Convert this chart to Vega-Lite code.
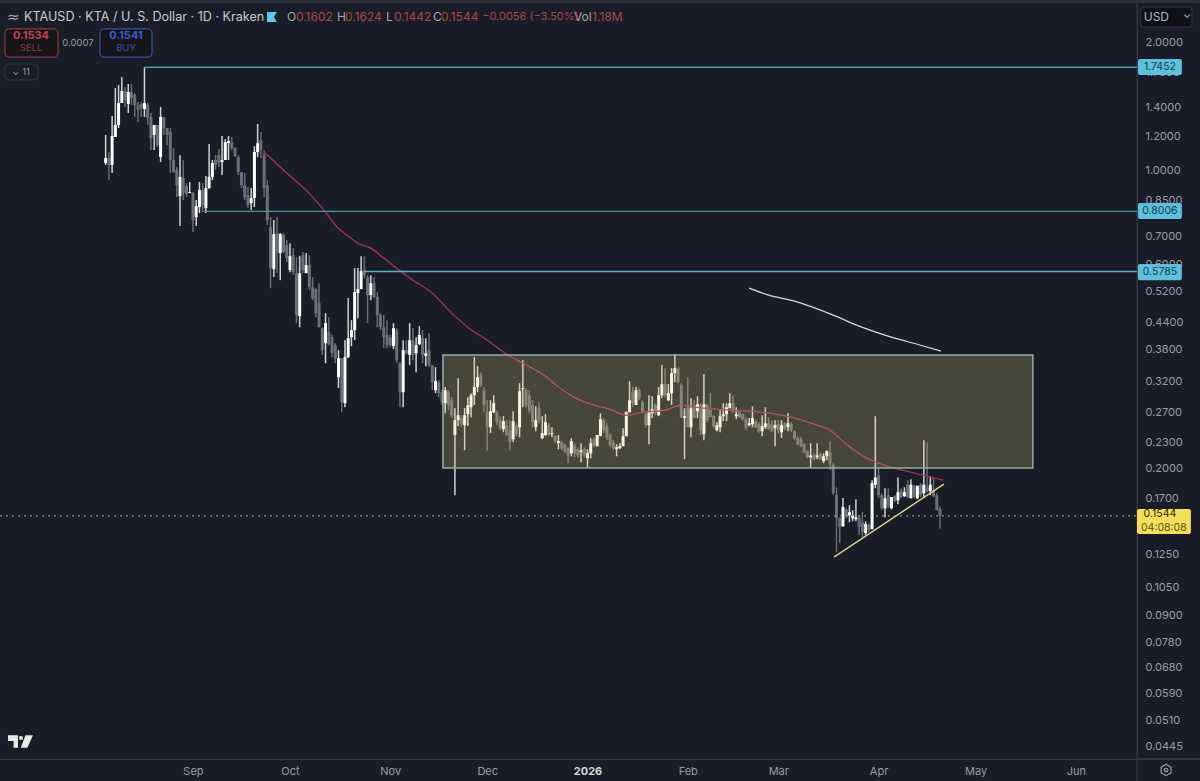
{"$schema":"https://vega.github.io/schema/vega-lite/v6.json","width":1137,"height":759,"autosize":{"type":"none"},"padding":{"left":0,"top":0,"right":63,"bottom":22},"background":"#1a1d27","config":{"view":{"stroke":null},"font":"Inter","text":{"font":"Inter"}},
"datasets":{
"candles":[
{"d":"2025-08-05","o":1.040,"h":1.210,"l":1.029,"c":1.068},{"d":"2025-08-06","o":1.068,"h":1.103,"l":0.948,"c":1.029},{"d":"2025-08-07","o":1.029,"h":1.341,"l":0.985,"c":1.203},{"d":"2025-08-08","o":1.197,"h":1.560,"l":1.197,"c":1.277},{"d":"2025-08-09","o":1.277,"h":1.586,"l":1.256,"c":1.438},{"d":"2025-08-10","o":1.438,"h":1.655,"l":1.438,"c":1.535},{"d":"2025-08-11","o":1.535,"h":1.569,"l":1.408,"c":1.462},{"d":"2025-08-12","o":1.431,"h":1.594,"l":1.363,"c":1.527},{"d":"2025-08-13","o":1.527,"h":1.594,"l":1.423,"c":1.478},{"d":"2025-08-14","o":1.502,"h":1.518,"l":1.334,"c":1.423},{"d":"2025-08-15","o":1.423,"h":1.446,"l":1.298,"c":1.385},{"d":"2025-08-16","o":1.431,"h":1.446,"l":1.334,"c":1.400},{"d":"2025-08-17","o":1.392,"h":1.745,"l":1.334,"c":1.438},{"d":"2025-08-18","o":1.423,"h":1.438,"l":1.277,"c":1.327},{"d":"2025-08-19","o":1.334,"h":1.363,"l":1.115,"c":1.190},{"d":"2025-08-20","o":1.210,"h":1.277,"l":1.115,"c":1.277},{"d":"2025-08-21","o":1.277,"h":1.277,"l":1.133,"c":1.145},{"d":"2025-08-22","o":1.074,"h":1.408,"l":1.046,"c":1.334},{"d":"2025-08-23","o":1.334,"h":1.334,"l":1.210,"c":1.256},{"d":"2025-08-24","o":1.256,"h":1.256,"l":1.145,"c":1.210},{"d":"2025-08-25","o":1.230,"h":1.256,"l":0.985,"c":1.057},{"d":"2025-08-26","o":1.057,"h":1.127,"l":0.985,"c":0.990},{"d":"2025-08-27","o":1.001,"h":1.018,"l":0.865,"c":0.923},{"d":"2025-08-28","o":0.8697,"h":1.085,"l":0.7394,"c":0.964},{"d":"2025-08-29","o":0.959,"h":1.057,"l":0.851,"c":0.8838},{"d":"2025-08-30","o":0.918,"h":0.933,"l":0.865,"c":0.879},{"d":"2025-08-31","o":0.8838,"h":0.938,"l":0.8838,"c":0.8886},
{"d":"2025-09-01","o":0.8838,"h":0.8886,"l":0.7158,"c":0.7638},{"d":"2025-09-02","o":0.7763,"h":0.851,"l":0.7394,"c":0.8239},{"d":"2025-09-03","o":0.8196,"h":0.938,"l":0.7932,"c":0.8983},{"d":"2025-09-04","o":0.8983,"h":0.933,"l":0.7975,"c":0.8284},{"d":"2025-09-05","o":0.8151,"h":0.969,"l":0.7932,"c":0.908},{"d":"2025-09-06","o":0.908,"h":1.152,"l":0.903,"c":0.964},{"d":"2025-09-07","o":0.964,"h":1.057,"l":0.948,"c":1.040},{"d":"2025-09-08","o":1.057,"h":1.085,"l":1.001,"c":1.029},{"d":"2025-09-09","o":1.085,"h":1.121,"l":1.018,"c":1.040},{"d":"2025-09-10","o":1.046,"h":1.203,"l":0.974,"c":1.057},{"d":"2025-09-11","o":1.057,"h":1.183,"l":1.057,"c":1.164},{"d":"2025-09-12","o":1.158,"h":1.203,"l":1.057,"c":1.171},{"d":"2025-09-13","o":1.164,"h":1.197,"l":1.115,"c":1.127},{"d":"2025-09-14","o":1.127,"h":1.133,"l":1.074,"c":1.080},{"d":"2025-09-15","o":1.074,"h":1.085,"l":0.974,"c":0.990},{"d":"2025-09-16","o":0.990,"h":0.990,"l":0.908,"c":0.923},{"d":"2025-09-17","o":0.923,"h":0.985,"l":0.851,"c":0.865},{"d":"2025-09-18","o":0.8746,"h":0.913,"l":0.8151,"c":0.8284},{"d":"2025-09-19","o":0.8372,"h":0.908,"l":0.8062,"c":0.8603},{"d":"2025-09-20","o":0.8603,"h":1.139,"l":0.8196,"c":1.103},{"d":"2025-09-21","o":1.103,"h":1.284,"l":1.074,"c":1.158},{"d":"2025-09-22","o":1.177,"h":1.230,"l":1.068,"c":1.115},{"d":"2025-09-23","o":1.085,"h":1.115,"l":0.865,"c":0.908},{"d":"2025-09-24","o":0.923,"h":0.948,"l":0.7435,"c":0.7638},{"d":"2025-09-25","o":0.7355,"h":0.7763,"l":0.5287,"c":0.5892},{"d":"2025-09-26","o":0.5860,"h":0.7638,"l":0.5612,"c":0.7081},{"d":"2025-09-27","o":0.7120,"h":0.7763,"l":0.5734,"c":0.6390},{"d":"2025-09-28","o":0.6390,"h":0.7120,"l":0.5521,"c":0.7081},{"d":"2025-09-29","o":0.7044,"h":0.7120,"l":0.6390,"c":0.6424},{"d":"2025-09-30","o":0.6672,"h":0.6855,"l":0.6085,"c":0.6220},
{"d":"2025-10-01","o":0.5828,"h":0.6744,"l":0.5765,"c":0.6286},{"d":"2025-10-02","o":0.6320,"h":0.6564,"l":0.5674,"c":0.5765},{"d":"2025-10-03","o":0.5734,"h":0.6253,"l":0.4375,"c":0.4570},{"d":"2025-10-04","o":0.4545,"h":0.6286,"l":0.4282,"c":0.5734},{"d":"2025-10-05","o":0.6320,"h":0.6424,"l":0.5734,"c":0.5828},{"d":"2025-10-06","o":0.5734,"h":0.6390,"l":0.5734,"c":0.5988},{"d":"2025-10-07","o":0.5988,"h":0.6320,"l":0.5231,"c":0.5316},{"d":"2025-10-08","o":0.5316,"h":0.5612,"l":0.4955,"c":0.5007},{"d":"2025-10-09","o":0.5259,"h":0.5287,"l":0.4520,"c":0.4620},{"d":"2025-10-10","o":0.4875,"h":0.5432,"l":0.4282,"c":0.4282},{"d":"2025-10-11","o":0.4258,"h":0.4282,"l":0.3686,"c":0.3781},{"d":"2025-10-12","o":0.3927,"h":0.4620,"l":0.3524,"c":0.4375},{"d":"2025-10-13","o":0.4167,"h":0.4520,"l":0.3884,"c":0.3905},{"d":"2025-10-14","o":0.4056,"h":0.4108,"l":0.3641,"c":0.3720},{"d":"2025-10-15","o":0.3884,"h":0.3927,"l":0.3524,"c":0.3620},{"d":"2025-10-16","o":0.3267,"h":0.3781,"l":0.3082,"c":0.3620},{"d":"2025-10-17","o":0.3620,"h":0.3620,"l":0.2703,"c":0.2854},{"d":"2025-10-18","o":0.2839,"h":0.3991,"l":0.2777,"c":0.3641},{"d":"2025-10-19","o":0.3641,"h":0.5010,"l":0.3620,"c":0.4034},{"d":"2025-10-20","o":0.4056,"h":0.4447,"l":0.3863,"c":0.4213},{"d":"2025-10-21","o":0.4213,"h":0.5892,"l":0.3991,"c":0.5175},{"d":"2025-10-22","o":0.5147,"h":0.5892,"l":0.4495,"c":0.5259},{"d":"2025-10-23","o":0.5259,"h":0.6286,"l":0.5287,"c":0.5797},{"d":"2025-10-24","o":0.5828,"h":0.6286,"l":0.5581,"c":0.5672},{"d":"2025-10-25","o":0.5612,"h":0.5672,"l":0.4375,"c":0.5092},{"d":"2025-10-26","o":0.5092,"h":0.5672,"l":0.4955,"c":0.5432},{"d":"2025-10-27","o":0.5432,"h":0.5612,"l":0.5007,"c":0.5036},{"d":"2025-10-28","o":0.5036,"h":0.5175,"l":0.4282,"c":0.4570},{"d":"2025-10-29","o":0.4570,"h":0.4620,"l":0.4213,"c":0.4282},{"d":"2025-10-30","o":0.4282,"h":0.4570,"l":0.3822,"c":0.4056},{"d":"2025-10-31","o":0.4108,"h":0.4447,"l":0.3822,"c":0.3884},
{"d":"2025-11-01","o":0.4056,"h":0.4108,"l":0.3843,"c":0.3884},{"d":"2025-11-02","o":0.3863,"h":0.4375,"l":0.3802,"c":0.4258},{"d":"2025-11-03","o":0.4213,"h":0.4258,"l":0.3524,"c":0.3582},{"d":"2025-11-04","o":0.3524,"h":0.3544,"l":0.2777,"c":0.3013},{"d":"2025-11-05","o":0.3013,"h":0.3991,"l":0.2777,"c":0.3781},{"d":"2025-11-06","o":0.3781,"h":0.3991,"l":0.3686,"c":0.3720},{"d":"2025-11-07","o":0.3686,"h":0.4375,"l":0.3488,"c":0.3991},{"d":"2025-11-08","o":0.3991,"h":0.4258,"l":0.3582,"c":0.3686},{"d":"2025-11-09","o":0.3720,"h":0.4056,"l":0.3358,"c":0.3884},{"d":"2025-11-10","o":0.3905,"h":0.4305,"l":0.3884,"c":0.4108},{"d":"2025-11-11","o":0.4034,"h":0.4213,"l":0.3524,"c":0.3686},{"d":"2025-11-12","o":0.3665,"h":0.4034,"l":0.3468,"c":0.3720},{"d":"2025-11-13","o":0.3781,"h":0.4146,"l":0.3450,"c":0.3488},{"d":"2025-11-14","o":0.3488,"h":0.3488,"l":0.3046,"c":0.3181},{"d":"2025-11-15","o":0.3046,"h":0.3450,"l":0.2997,"c":0.3198},{"d":"2025-11-16","o":0.3181,"h":0.3215,"l":0.2932,"c":0.2997},{"d":"2025-11-17","o":0.3013,"h":0.3046,"l":0.2810,"c":0.2854},{"d":"2025-11-18","o":0.2839,"h":0.3099,"l":0.2689,"c":0.3046},{"d":"2025-11-19","o":0.3013,"h":0.3046,"l":0.2733,"c":0.2810},{"d":"2025-11-20","o":0.2885,"h":0.2932,"l":0.2619,"c":0.2660},{"d":"2025-11-21","o":0.2390,"h":0.2763,"l":0.1727,"c":0.2590},{"d":"2025-11-22","o":0.2590,"h":0.3250,"l":0.2509,"c":0.2660},{"d":"2025-11-23","o":0.2619,"h":0.2660,"l":0.2493,"c":0.2534},{"d":"2025-11-24","o":0.2521,"h":0.2763,"l":0.2202,"c":0.2660},{"d":"2025-11-25","o":0.2675,"h":0.2932,"l":0.2509,"c":0.2810},{"d":"2025-11-26","o":0.2777,"h":0.2997,"l":0.2632,"c":0.2964},{"d":"2025-11-27","o":0.2964,"h":0.3641,"l":0.2810,"c":0.3099},{"d":"2025-11-28","o":0.3099,"h":0.3468,"l":0.3013,"c":0.3267},{"d":"2025-11-29","o":0.3304,"h":0.3358,"l":0.3099,"c":0.3130},{"d":"2025-11-30","o":0.3046,"h":0.3099,"l":0.2703,"c":0.2810},
{"d":"2025-12-01","o":0.2703,"h":0.2885,"l":0.2202,"c":0.2493},{"d":"2025-12-02","o":0.2493,"h":0.2885,"l":0.2414,"c":0.2718},{"d":"2025-12-03","o":0.2703,"h":0.2964,"l":0.2689,"c":0.2839},{"d":"2025-12-04","o":0.2703,"h":0.2733,"l":0.2521,"c":0.2562},{"d":"2025-12-05","o":0.2590,"h":0.2646,"l":0.2453,"c":0.2480},{"d":"2025-12-06","o":0.2467,"h":0.2646,"l":0.2427,"c":0.2576},{"d":"2025-12-07","o":0.2521,"h":0.2590,"l":0.2375,"c":0.2390},{"d":"2025-12-08","o":0.2453,"h":0.2590,"l":0.2202,"c":0.2299},{"d":"2025-12-09","o":0.2337,"h":0.2718,"l":0.2299,"c":0.2576},{"d":"2025-12-10","o":0.2507,"h":0.2548,"l":0.2375,"c":0.2401},{"d":"2025-12-11","o":0.2493,"h":0.3163,"l":0.2363,"c":0.3030},{"d":"2025-12-12","o":0.3062,"h":0.3582,"l":0.2777,"c":0.3079},{"d":"2025-12-13","o":0.3046,"h":0.3079,"l":0.2777,"c":0.2810},{"d":"2025-12-14","o":0.2964,"h":0.3046,"l":0.2689,"c":0.2733},{"d":"2025-12-15","o":0.2810,"h":0.2885,"l":0.2493,"c":0.2562},{"d":"2025-12-16","o":0.2493,"h":0.2793,"l":0.2440,"c":0.2590},{"d":"2025-12-17","o":0.2763,"h":0.2854,"l":0.2548,"c":0.2590},{"d":"2025-12-18","o":0.2350,"h":0.2646,"l":0.2337,"c":0.2414},{"d":"2025-12-19","o":0.2390,"h":0.2675,"l":0.2375,"c":0.2562},{"d":"2025-12-20","o":0.2521,"h":0.2548,"l":0.2375,"c":0.2390},{"d":"2025-12-21","o":0.2401,"h":0.2493,"l":0.2363,"c":0.2414},{"d":"2025-12-22","o":0.2375,"h":0.2390,"l":0.2287,"c":0.2312},{"d":"2025-12-23","o":0.2287,"h":0.2390,"l":0.2214,"c":0.2312},{"d":"2025-12-24","o":0.2299,"h":0.2324,"l":0.2202,"c":0.2226},{"d":"2025-12-25","o":0.2262,"h":0.2287,"l":0.2166,"c":0.2190},{"d":"2025-12-26","o":0.2226,"h":0.2238,"l":0.2052,"c":0.2142},{"d":"2025-12-27","o":0.2166,"h":0.2350,"l":0.2131,"c":0.2312},{"d":"2025-12-28","o":0.2262,"h":0.2287,"l":0.2119,"c":0.2166},{"d":"2025-12-29","o":0.2214,"h":0.2238,"l":0.2119,"c":0.2142},{"d":"2025-12-30","o":0.2178,"h":0.2287,"l":0.2063,"c":0.2202},{"d":"2025-12-31","o":0.2214,"h":0.2238,"l":0.2119,"c":0.2154},
{"d":"2026-01-01","o":0.2108,"h":0.2214,"l":0.2008,"c":0.2166},{"d":"2026-01-02","o":0.2166,"h":0.2350,"l":0.2108,"c":0.2287},{"d":"2026-01-03","o":0.2337,"h":0.2363,"l":0.2238,"c":0.2262},{"d":"2026-01-04","o":0.2250,"h":0.2390,"l":0.2250,"c":0.2390},{"d":"2026-01-05","o":0.2375,"h":0.2689,"l":0.2375,"c":0.2604},{"d":"2026-01-06","o":0.2590,"h":0.2619,"l":0.2414,"c":0.2453},{"d":"2026-01-07","o":0.2507,"h":0.2548,"l":0.2324,"c":0.2363},{"d":"2026-01-08","o":0.2390,"h":0.2414,"l":0.2238,"c":0.2262},{"d":"2026-01-09","o":0.2299,"h":0.2324,"l":0.2202,"c":0.2226},{"d":"2026-01-10","o":0.2214,"h":0.2274,"l":0.2131,"c":0.2238},{"d":"2026-01-11","o":0.2226,"h":0.2287,"l":0.2214,"c":0.2250},{"d":"2026-01-12","o":0.2250,"h":0.2480,"l":0.2250,"c":0.2375},{"d":"2026-01-13","o":0.2375,"h":0.2718,"l":0.2375,"c":0.2703},{"d":"2026-01-14","o":0.2703,"h":0.3198,"l":0.2703,"c":0.2885},{"d":"2026-01-15","o":0.3013,"h":0.3099,"l":0.2777,"c":0.2839},{"d":"2026-01-16","o":0.2810,"h":0.3099,"l":0.2810,"c":0.3046},{"d":"2026-01-17","o":0.3046,"h":0.3079,"l":0.2885,"c":0.2916},{"d":"2026-01-18","o":0.2854,"h":0.2885,"l":0.2689,"c":0.2718},{"d":"2026-01-19","o":0.2675,"h":0.2689,"l":0.2493,"c":0.2521},{"d":"2026-01-20","o":0.2521,"h":0.2964,"l":0.2274,"c":0.2703},{"d":"2026-01-21","o":0.2689,"h":0.2948,"l":0.2619,"c":0.2748},{"d":"2026-01-22","o":0.2810,"h":0.2839,"l":0.2660,"c":0.2689},{"d":"2026-01-23","o":0.2660,"h":0.3099,"l":0.2646,"c":0.2964},{"d":"2026-01-24","o":0.2964,"h":0.3488,"l":0.2916,"c":0.3147},{"d":"2026-01-25","o":0.3147,"h":0.3431,"l":0.2932,"c":0.2964},{"d":"2026-01-26","o":0.2885,"h":0.3147,"l":0.2870,"c":0.2997},{"d":"2026-01-27","o":0.2997,"h":0.3431,"l":0.2810,"c":0.3340},{"d":"2026-01-28","o":0.3340,"h":0.3705,"l":0.3181,"c":0.3431},{"d":"2026-01-29","o":0.3431,"h":0.3450,"l":0.3163,"c":0.3181},{"d":"2026-01-30","o":0.3130,"h":0.3163,"l":0.2619,"c":0.2632},{"d":"2026-01-31","o":0.2619,"h":0.2763,"l":0.2097,"c":0.2646},
{"d":"2026-02-01","o":0.2810,"h":0.3267,"l":0.2493,"c":0.2493},{"d":"2026-02-02","o":0.2493,"h":0.2916,"l":0.2363,"c":0.2763},{"d":"2026-02-03","o":0.2810,"h":0.2885,"l":0.2619,"c":0.2619},{"d":"2026-02-04","o":0.2718,"h":0.2948,"l":0.2619,"c":0.2824},{"d":"2026-02-05","o":0.2810,"h":0.2839,"l":0.2390,"c":0.2453},{"d":"2026-02-06","o":0.2401,"h":0.3323,"l":0.2324,"c":0.2824},{"d":"2026-02-07","o":0.2810,"h":0.2839,"l":0.2562,"c":0.2590},{"d":"2026-02-08","o":0.2733,"h":0.2997,"l":0.2632,"c":0.2632},{"d":"2026-02-09","o":0.2646,"h":0.2660,"l":0.2480,"c":0.2507},{"d":"2026-02-10","o":0.2453,"h":0.2562,"l":0.2440,"c":0.2521},{"d":"2026-02-11","o":0.2493,"h":0.2733,"l":0.2427,"c":0.2646},{"d":"2026-02-12","o":0.2646,"h":0.2839,"l":0.2576,"c":0.2675},{"d":"2026-02-13","o":0.2675,"h":0.2839,"l":0.2576,"c":0.2777},{"d":"2026-02-14","o":0.2763,"h":0.2997,"l":0.2763,"c":0.2839},{"d":"2026-02-15","o":0.2839,"h":0.2964,"l":0.2689,"c":0.2718},{"d":"2026-02-16","o":0.2646,"h":0.2777,"l":0.2604,"c":0.2675},{"d":"2026-02-17","o":0.2703,"h":0.2733,"l":0.2619,"c":0.2632},{"d":"2026-02-18","o":0.2675,"h":0.2689,"l":0.2590,"c":0.2604},{"d":"2026-02-19","o":0.2604,"h":0.2632,"l":0.2453,"c":0.2480},{"d":"2026-02-20","o":0.2521,"h":0.2619,"l":0.2507,"c":0.2548},{"d":"2026-02-21","o":0.2534,"h":0.2793,"l":0.2493,"c":0.2619},{"d":"2026-02-22","o":0.2576,"h":0.2590,"l":0.2480,"c":0.2493},{"d":"2026-02-23","o":0.2534,"h":0.2562,"l":0.2414,"c":0.2440},{"d":"2026-02-24","o":0.2440,"h":0.2660,"l":0.2375,"c":0.2507},{"d":"2026-02-25","o":0.2493,"h":0.2777,"l":0.2467,"c":0.2548},{"d":"2026-02-26","o":0.2548,"h":0.2632,"l":0.2453,"c":0.2467},{"d":"2026-02-27","o":0.2534,"h":0.2590,"l":0.2427,"c":0.2440},{"d":"2026-02-28","o":0.2480,"h":0.2590,"l":0.2250,"c":0.2521},
{"d":"2026-03-01","o":0.2534,"h":0.2590,"l":0.2414,"c":0.2453},{"d":"2026-03-02","o":0.2427,"h":0.2590,"l":0.2350,"c":0.2521},{"d":"2026-03-03","o":0.2548,"h":0.2562,"l":0.2453,"c":0.2467},{"d":"2026-03-04","o":0.2493,"h":0.2689,"l":0.2440,"c":0.2548},{"d":"2026-03-05","o":0.2534,"h":0.2562,"l":0.2427,"c":0.2453},{"d":"2026-03-06","o":0.2440,"h":0.2453,"l":0.2324,"c":0.2350},{"d":"2026-03-07","o":0.2350,"h":0.2375,"l":0.2262,"c":0.2274},{"d":"2026-03-08","o":0.2337,"h":0.2363,"l":0.2238,"c":0.2250},{"d":"2026-03-09","o":0.2274,"h":0.2287,"l":0.2166,"c":0.2178},{"d":"2026-03-10","o":0.2190,"h":0.2202,"l":0.2108,"c":0.2119},{"d":"2026-03-11","o":0.2119,"h":0.2287,"l":0.2008,"c":0.2142},{"d":"2026-03-12","o":0.2142,"h":0.2166,"l":0.2086,"c":0.2097},{"d":"2026-03-13","o":0.2119,"h":0.2287,"l":0.2097,"c":0.2142},{"d":"2026-03-14","o":0.2154,"h":0.2178,"l":0.2086,"c":0.2097},{"d":"2026-03-15","o":0.2075,"h":0.2166,"l":0.2052,"c":0.2131},{"d":"2026-03-16","o":0.2131,"h":0.2202,"l":0.2086,"c":0.2190},{"d":"2026-03-17","o":0.2178,"h":0.2312,"l":0.1976,"c":0.2052},{"d":"2026-03-18","o":0.2030,"h":0.2052,"l":0.1727,"c":0.1745},{"d":"2026-03-19","o":0.1727,"h":0.1800,"l":0.1268,"c":0.1524},{"d":"2026-03-20","o":0.1524,"h":0.1531,"l":0.1332,"c":0.1454},{"d":"2026-03-21","o":0.1461,"h":0.1700,"l":0.1454,"c":0.1620},{"d":"2026-03-22","o":0.1600,"h":0.1610,"l":0.1524,"c":0.1540},{"d":"2026-03-23","o":0.1549,"h":0.1636,"l":0.1492,"c":0.1575},{"d":"2026-03-24","o":0.1524,"h":0.1592,"l":0.1500,"c":0.1549},{"d":"2026-03-25","o":0.1516,"h":0.1690,"l":0.1500,"c":0.1531},{"d":"2026-03-26","o":0.1531,"h":0.1549,"l":0.1390,"c":0.1454},{"d":"2026-03-27","o":0.1492,"h":0.1575,"l":0.1375,"c":0.1414},{"d":"2026-03-28","o":0.1407,"h":0.1500,"l":0.1390,"c":0.1477},{"d":"2026-03-29","o":0.1469,"h":0.1484,"l":0.1414,"c":0.1429},{"d":"2026-03-30","o":0.1437,"h":0.1872,"l":0.1437,"c":0.1842},{"d":"2026-03-31","o":0.1827,"h":0.2646,"l":0.1793,"c":0.1900},
{"d":"2026-04-01","o":0.1923,"h":0.1997,"l":0.1700,"c":0.1727},{"d":"2026-04-02","o":0.1727,"h":0.1745,"l":0.1592,"c":0.1609},{"d":"2026-04-03","o":0.1609,"h":0.1793,"l":0.1531,"c":0.1698},{"d":"2026-04-04","o":0.1727,"h":0.1793,"l":0.1609,"c":0.1627},{"d":"2026-04-05","o":0.1609,"h":0.1709,"l":0.1600,"c":0.1709},{"d":"2026-04-06","o":0.1718,"h":0.1727,"l":0.1663,"c":0.1671},{"d":"2026-04-07","o":0.1680,"h":0.1900,"l":0.1645,"c":0.1755},{"d":"2026-04-08","o":0.1774,"h":0.1793,"l":0.1698,"c":0.1709},{"d":"2026-04-09","o":0.1718,"h":0.1803,"l":0.1709,"c":0.1755},{"d":"2026-04-10","o":0.1827,"h":0.1872,"l":0.1698,"c":0.1709},{"d":"2026-04-11","o":0.1698,"h":0.1882,"l":0.1698,"c":0.1827},{"d":"2026-04-12","o":0.1817,"h":0.1827,"l":0.1698,"c":0.1709},{"d":"2026-04-13","o":0.1698,"h":0.1817,"l":0.1689,"c":0.1817},{"d":"2026-04-14","o":0.1827,"h":0.1842,"l":0.1709,"c":0.1727},{"d":"2026-04-15","o":0.1745,"h":0.2324,"l":0.1709,"c":0.1827},{"d":"2026-04-16","o":0.1803,"h":0.2299,"l":0.1755,"c":0.1755},{"d":"2026-04-17","o":0.1765,"h":0.1914,"l":0.1727,"c":0.1827},{"d":"2026-04-18","o":0.1774,"h":0.1904,"l":0.1709,"c":0.1718},{"d":"2026-04-19","o":0.1727,"h":0.1745,"l":0.1592,"c":0.1592},{"d":"2026-04-20","o":0.1602,"h":0.1624,"l":0.1442,"c":0.1544}
],
"ma":[{"d":"2025-09-23","p":1.103},{"d":"2025-09-26","p":1.051},{"d":"2025-10-01","p":0.969},{"d":"2025-10-06","p":0.8983},{"d":"2025-10-08","p":0.865},{"d":"2025-10-12","p":0.7975},{"d":"2025-10-15","p":0.7435},{"d":"2025-10-19","p":0.7005},{"d":"2025-10-22","p":0.6744},{"d":"2025-10-26","p":0.6564},{"d":"2025-10-30","p":0.622},{"d":"2025-11-03","p":0.5892},{"d":"2025-11-08","p":0.5521},{"d":"2025-11-14","p":0.5147},{"d":"2025-11-20","p":0.462},{"d":"2025-11-25","p":0.4282},{"d":"2025-12-01","p":0.3991},{"d":"2025-12-07","p":0.3702},{"d":"2025-12-12","p":0.3524},{"d":"2025-12-18","p":0.3323},{"d":"2025-12-24","p":0.3062},{"d":"2025-12-29","p":0.2901},{"d":"2026-01-03","p":0.281},{"d":"2026-01-08","p":0.2748},{"d":"2026-01-13","p":0.266},{"d":"2026-01-18","p":0.2703},{"d":"2026-01-25","p":0.2733},{"d":"2026-01-30","p":0.281},{"d":"2026-02-04","p":0.2777},{"d":"2026-02-14","p":0.2733},{"d":"2026-02-24","p":0.2703},{"d":"2026-03-05","p":0.2632},{"d":"2026-03-12","p":0.2534},{"d":"2026-03-17","p":0.2453},{"d":"2026-03-22","p":0.2274},{"d":"2026-03-28","p":0.2119},{"d":"2026-04-02","p":0.204},{"d":"2026-04-07","p":0.1987},{"d":"2026-04-15","p":0.1923},{"d":"2026-04-21","p":0.1872}],
"whiteline":[{"d":"2026-02-20","p":0.5287},{"d":"2026-02-26","p":0.5092},{"d":"2026-03-06","p":0.4928},{"d":"2026-03-18","p":0.457},{"d":"2026-03-26","p":0.4305},{"d":"2026-04-05","p":0.4056},{"d":"2026-04-14","p":0.3884},{"d":"2026-04-20T08:00:00Z","p":0.3761}],
"trend":[{"d":"2026-03-18T05:00:00Z","p":0.1236},{"d":"2026-04-21T05:00:00Z","p":0.1833}],
"levels":[{"d":"2025-08-17","d2":"2026-06-19T22:00:00Z","p":1.7452,"role":"a"},{"d":"2025-09-04T10:00:00Z","d2":"2026-06-19T22:00:00Z","p":0.8006,"role":"a"},{"d":"2025-10-24","d2":"2026-06-19T22:00:00Z","p":0.5785,"role":"b"}],
"zone":[{"d":"2025-11-17T07:00:00Z","d2":"2026-05-18T17:00:00Z","p":0.3684,"p2":0.2}],
"last":[{"d":"2025-07-03T08:00:00Z","d2":"2026-06-19T22:00:00Z","p":0.1544}],
"frameV":[{"d":"2026-06-19T22:00:00Z","p":2.51,"p2":0.0368}],
"frameH":[{"d":"2026-06-19T22:00:00Z","d2":"2026-07-10T00:00:00Z","p":0.04149}],
"topbar":[{"d":"2025-07-03T08:00:00Z","d2":"2026-07-10T00:00:00Z","p":2.51}],
"boxes":[{"role":"sell","d":"2025-07-04T21:00:00Z","d2":"2025-07-21T06:00:00Z","p":2.146,"p2":1.844},{"role":"buy","d":"2025-08-03T06:00:00Z","d2":"2025-08-19T08:00:00Z","p":2.146,"p2":1.844},{"role":"count","d":"2025-07-04T21:00:00Z","d2":"2025-07-15T02:00:00Z","p":1.776,"p2":1.629},{"role":"usd","d":"2026-06-21T02:00:00Z","d2":"2026-07-06T22:00:00Z","p":2.416,"p2":2.169}],
"tags":[{"role":"level","d":"2026-06-20T05:00:00Z","d2":"2026-07-03T19:00:00Z","p":1.8245,"p2":1.673},{"role":"level","d":"2026-06-20T05:00:00Z","d2":"2026-07-03T19:00:00Z","p":0.8376,"p2":0.7682},{"role":"level","d":"2026-06-20T05:00:00Z","d2":"2026-07-03T19:00:00Z","p":0.6024,"p2":0.5521},{"role":"price","d":"2026-06-19T22:00:00Z","d2":"2026-07-06T14:00:00Z","p":0.1602,"p2":0.14}],
"head":[{"t":"KTAUSD · KTA / U. S. Dollar · 1D · Kraken","d":"2025-07-10T18:00:00Z","p":2.289}],
"ohlc":[{"t":"O","role":"key","d":"2025-09-30T02:00:00Z","p":2.289},{"t":"0.1602","role":"val","d":"2025-10-02T20:00:00Z","p":2.289},{"t":"H","role":"key","d":"2025-10-15T13:00:00Z","p":2.289},{"t":"0.1624","role":"val","d":"2025-10-18T00:00:00Z","p":2.289},{"t":"L","role":"key","d":"2025-10-30T16:00:00Z","p":2.289},{"t":"0.1442","role":"val","d":"2025-11-02T04:00:00Z","p":2.289},{"t":"C","role":"key","d":"2025-11-14T05:00:00Z","p":2.289},{"t":"0.1544","role":"val","d":"2025-11-16T17:00:00Z","p":2.289},{"t":"Vol","role":"key","d":"2025-12-27T19:00:00Z","p":2.289},{"t":"1.18M","role":"val","d":"2026-01-02T10:00:00Z","p":2.289},{"t":"USD","role":"key2","d":"2026-06-22T00:00:00Z","p":2.289}],
"change":[{"t":"−0.0056 (−3.50%)","d":"2025-11-29T10:00:00Z","p":2.289}],
"bold":[{"t":"0.1534","role":"sell","d":"2025-07-12T22:00:00Z","p":2.066},{"t":"0.1541","role":"buy","d":"2025-08-11T07:00:00Z","p":2.066}],
"small":[{"t":"SELL","role":"sell","d":"2025-07-12T22:00:00Z","p":1.936},{"t":"BUY","role":"buy","d":"2025-08-11T07:00:00Z","p":1.936},{"t":"0.0007","role":"grey","d":"2025-07-27T11:00:00Z","p":1.989},{"t":"⌄ 11","role":"grey","d":"2025-07-09T20:00:00Z","p":1.701}],
"tagtext":[{"t":"1.7452","role":"level","d":"2026-06-27T00:00:00Z","p":1.7452},{"t":"0.8006","role":"level","d":"2026-06-27T00:00:00Z","p":0.8006},{"t":"0.5785","role":"level","d":"2026-06-27T00:00:00Z","p":0.5785},{"t":"0.1544","role":"price","d":"2026-06-27T00:00:00Z","p":0.1556},{"t":"04:08:08","role":"clock","d":"2026-06-28T05:00:00Z","p":0.1446},{"t":"⌄","role":"usd","d":"2026-07-05T10:00:00Z","p":2.32}],
"flag":[{"d":"2025-09-25T10:00:00Z","p":2.289}],
"logo":[{"d":"2025-07-09T16:00:00Z","p":0.0456}],
"gear":[{"d":"2026-06-28T22:00:00Z","p":0.0391}],
"mark":[{"t":"≈","d":"2025-07-05T12:00:00Z","p":2.289}]
},
"encoding":{
"x":{"field":"d","type":"temporal","title":null,"scale":{"type":"utc","padding":0,"domain":["2025-07-03T08:00:00Z","2026-06-19T22:00:00Z"]},"axis":{"orient":"bottom","title":null,"grid":false,"domainColor":"#34363f","tickSize":0,"labelColor":{"condition":{"test":"utcmonth(datum.value)==0","value":"#d6d7da"},"value":"#9a9ca3"},"labelFontSize":11,"labelFont":"Inter","labelPadding":6,"labelFontWeight":{"condition":{"test":"utcmonth(datum.value)==0","value":"bold"},"value":"normal"},"labelOverlap":false,"values":[{"year":2025,"month":9,"date":1,"utc":true},{"year":2025,"month":10,"date":1,"utc":true},{"year":2025,"month":11,"date":1,"utc":true},{"year":2025,"month":12,"date":1,"utc":true},{"year":2026,"month":1,"date":1,"utc":true},{"year":2026,"month":2,"date":1,"utc":true},{"year":2026,"month":3,"date":1,"utc":true},{"year":2026,"month":4,"date":1,"utc":true},{"year":2026,"month":5,"date":1,"utc":true},{"year":2026,"month":6,"date":1,"utc":true}],"labelExpr":"utcmonth(datum.value)==0?'2026':utcFormat(datum.value,'%b')"}},
"y":{"field":"p","type":"quantitative","title":null,"scale":{"type":"log","domain":[0.04149,2.5098],"nice":false,"zero":false},"axis":{"orient":"right","title":null,"grid":false,"domainColor":"#34363f","tickSize":0,"labelColor":"#9a9ca3","labelFontSize":11,"labelFont":"Inter","labelPadding":8,"labelAlign":"left","format":".4f","labelOverlap":false,"values":[2,1.7,1.4,1.2,1,0.85,0.7,0.6,0.52,0.44,0.38,0.32,0.27,0.23,0.2,0.17,0.125,0.105,0.09,0.078,0.068,0.059,0.051,0.0445]}}
},
"layer":[
{"data":{"name":"topbar"},"mark":{"type":"rule","color":"#2e3038","strokeWidth":6},"encoding":{"x2":{"field":"d2"}}},
{"data":{"name":"frameV"},"mark":{"type":"rule","color":"#34363f","strokeWidth":1},"encoding":{"y2":{"field":"p2"}}},
{"data":{"name":"frameH"},"mark":{"type":"rule","color":"#34363f","strokeWidth":2},"encoding":{"x2":{"field":"d2"}}},
{"data":{"name":"candles"},"mark":{"type":"rule","strokeWidth":1.5},"encoding":{"y":{"field":"h","type":"quantitative","title":null},"y2":{"field":"l"},"color":{"condition":{"test":"datum.c>=datum.o","value":"#d2d3d6"},"value":"#696c76"}}},
{"data":{"name":"candles"},"mark":{"type":"bar","size":3},"encoding":{"y":{"field":"o","type":"quantitative","title":null},"y2":{"field":"c"},"color":{"condition":{"test":"datum.c>=datum.o","value":"#ffffff"},"value":"#6c6f79"}}},
{"data":{"name":"ma"},"mark":{"type":"line","color":"#a8305c","strokeWidth":1.3,"interpolate":"monotone"},"encoding":{}},
{"data":{"name":"zone"},"mark":{"type":"rect","fill":"#dacd73","fillOpacity":0.24,"stroke":"#93aeb0","strokeWidth":1.5},"encoding":{"x2":{"field":"d2"},"y2":{"field":"p2"}}},
{"data":{"name":"whiteline"},"mark":{"type":"line","color":"#d8dade","strokeWidth":1.2,"interpolate":"monotone"},"encoding":{}},
{"data":{"name":"trend"},"mark":{"type":"line","color":"#dcd68a","strokeWidth":1.4},"encoding":{}},
{"data":{"name":"last"},"mark":{"type":"rule","color":"#b9ad6e","strokeWidth":1,"strokeDash":[2,4]},"encoding":{"x2":{"field":"d2"}}},
{"data":{"name":"levels"},"mark":{"type":"rule","strokeWidth":1.4},"encoding":{"x2":{"field":"d2"},"color":{"field":"role","type":"nominal","legend":null,"scale":{"domain":["a","b"],"range":["#4a9aa3","#62aec6"]}}}},
{"data":{"name":"boxes"},"mark":{"type":"rect","cornerRadius":4,"strokeWidth":1.2},"encoding":{"x2":{"field":"d2"},"y2":{"field":"p2"},"fill":{"field":"role","type":"nominal","legend":null,"scale":{"domain":["sell","buy","count","usd"],"range":["#15151a","#15151a","#1a1d27","#101116"]}},"stroke":{"field":"role","type":"nominal","legend":null,"scale":{"domain":["sell","buy","count","usd"],"range":["#8a3a3e","#3a4fa8","#2e313a","#2e313a"]}}}},
{"data":{"name":"tags"},"mark":{"type":"rect","cornerRadius":2},"encoding":{"x2":{"field":"d2"},"y2":{"field":"p2"},"fill":{"field":"role","type":"nominal","legend":null,"scale":{"domain":["level","price"],"range":["#5fc0dd","#f4de5b"]}}}},
{"data":{"name":"head"},"mark":{"type":"text","align":"left","baseline":"middle","fontSize":12.6,"font":"Inter","color":"#c9cbd0"},"encoding":{"text":{"field":"t"}}},
{"data":{"name":"mark"},"mark":{"type":"text","align":"left","baseline":"middle","fontSize":15,"font":"DejaVu Sans","color":"#a6a8ae"},"encoding":{"text":{"field":"t"}}},
{"data":{"name":"ohlc"},"mark":{"type":"text","align":"left","baseline":"middle","fontSize":12,"font":"Inter"},"encoding":{"text":{"field":"t"},"color":{"field":"role","type":"nominal","legend":null,"scale":{"domain":["key","val","key2"],"range":["#a6a8ae","#a8474d","#b6b8bd"]}}}},
{"data":{"name":"change"},"mark":{"type":"text","align":"left","baseline":"middle","fontSize":11,"font":"Inter","color":"#a8474d"},"encoding":{"text":{"field":"t"}}},
{"data":{"name":"bold"},"mark":{"type":"text","align":"center","baseline":"middle","fontSize":11,"fontWeight":"bold","font":"Inter"},"encoding":{"text":{"field":"t"},"color":{"field":"role","type":"nominal","legend":null,"scale":{"domain":["sell","buy"],"range":["#c2444a","#3f5cc4"]}}}},
{"data":{"name":"small"},"mark":{"type":"text","align":"center","baseline":"middle","fontSize":9.5,"font":"Inter"},"encoding":{"text":{"field":"t"},"color":{"field":"role","type":"nominal","legend":null,"scale":{"domain":["sell","buy","grey"],"range":["#8a3a3e","#3a4fa8","#9a9ca3"]}}}},
{"data":{"name":"tagtext"},"mark":{"type":"text","align":"center","baseline":"middle","fontSize":10.5,"font":"Inter"},"encoding":{"text":{"field":"t"},"color":{"field":"role","type":"nominal","legend":null,"scale":{"domain":["level","price","clock","usd"],"range":["#0f3d4d","#2a2608","#5a5316","#b6b8bd"]}}}},
{"data":{"name":"flag"},"mark":{"type":"point","filled":true,"shape":"M-1,-1L1,-1L0.4,0L1,1L-1,1Z","size":100,"color":"#5cc8ea","opacity":1},"encoding":{}},
{"data":{"name":"logo"},"mark":{"type":"point","filled":true,"shape":"M-1,-0.5L-0.2,-0.5L-0.2,0.5L-0.55,0.5L-0.55,-0.05L-1,-0.05Z M-0.1,-0.42L0.18,-0.42L0.18,-0.14L-0.1,-0.14Z M0.4,-0.5L1,-0.5L0.55,0.5L0.02,0.5Z","size":625,"color":"#e8e8e8","opacity":1},"encoding":{}},
{"data":{"name":"gear"},"mark":{"type":"point","filled":false,"shape":"M0,-1L0.87,-0.5L0.87,0.5L0,1L-0.87,0.5L-0.87,-0.5Z","size":130,"color":"#9a9ca3","opacity":1,"strokeWidth":1.2},"encoding":{}},
{"data":{"name":"gear"},"mark":{"type":"point","filled":false,"shape":"circle","size":12,"color":"#9a9ca3","opacity":1,"strokeWidth":1.2},"encoding":{}}
],
"resolve":{"scale":{"color":"independent","fill":"independent","stroke":"independent"}}
}
